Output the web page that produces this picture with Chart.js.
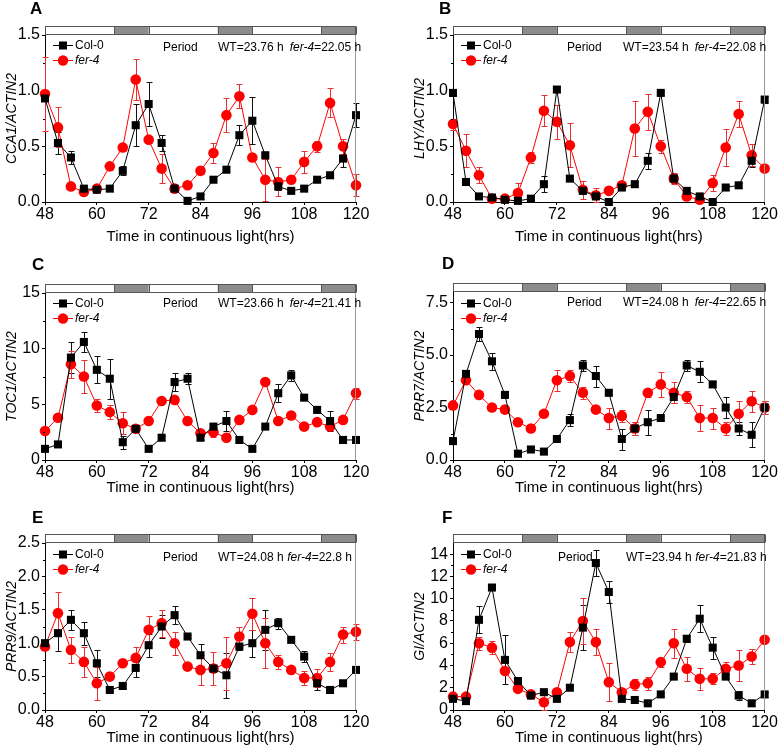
<!DOCTYPE html>
<html lang="en">
<head>
<meta charset="UTF-8" />
<title>Clock gene expression in continuous light</title>
<script src="https://cdn.jsdelivr.net/npm/chart.js"></script>
<style>
  body { margin: 0; background: #fff; }
  #fig { position: relative; width: 778px; height: 752px; }
  #fig canvas { position: absolute; }
</style>
</head>
<body>
<div id="fig">
  <canvas id="panelA" width="389" height="250" style="left:0;top:0"></canvas>
  <canvas id="panelB" width="389" height="250" style="left:389px;top:0"></canvas>
  <canvas id="panelC" width="389" height="250" style="left:0;top:250px"></canvas>
  <canvas id="panelD" width="389" height="250" style="left:389px;top:250px"></canvas>
  <canvas id="panelE" width="389" height="252" style="left:0;top:500px"></canvas>
  <canvas id="panelF" width="389" height="252" style="left:389px;top:500px"></canvas>
</div>
<script>
// sampling times (h in continuous light)
const hours = [48, 51, 54, 57, 60, 63, 66, 69, 72, 75, 78, 81, 84, 87, 90, 93, 96, 99, 102, 105, 108, 111, 114, 117, 120]
const xTicks = [48, 60, 72, 84, 96, 108, 120]

// y tick values per panel
const yTicksAB = [0, 0.5, 1.0, 1.5]
const yTicksC = [0, 5, 10, 15]
const yTicksD = [0, 2.5, 5.0, 7.5]
const yTicksE = [0, 0.5, 1.0, 1.5, 2.0, 2.5]
const yTicksF = [0, 2, 4, 6, 8, 10, 12, 14]

// subjective night bars
const darkStart = [64, 88, 112]
const darkEnd = [72, 96, 120]

// CCA1
const cca1Col = [0.93, 0.53, 0.40, 0.12, 0.11, 0.12, 0.28, 0.69, 0.88, 0.53, 0.12, 0.01, 0.05, 0.20, 0.29, 0.60, 0.73, 0.42, 0.14, 0.10, 0.12, 0.20, 0.24, 0.39, 0.78]
const cca1ColErr = [0.02, 0.10, 0.06, 0.02, 0.01, 0.02, 0.04, 0.19, 0.20, 0.07, 0.02, 0.01, 0.02, 0.02, 0.02, 0.09, 0.21, 0.03, 0.03, 0.02, 0.02, 0.02, 0.02, 0.08, 0.11]
const cca1Fer = [0.97, 0.67, 0.14, 0.09, 0.12, 0.32, 0.49, 1.10, 0.56, 0.30, 0.12, 0.15, 0.28, 0.44, 0.78, 0.95, 0.40, 0.20, 0.18, 0.20, 0.36, 0.50, 0.89, 0.50, 0.15]
const cca1FerErr = [0.33, 0.18, 0.02, 0.02, 0.03, 0.03, 0.03, 0.18, 0.03, 0.13, 0.02, 0.02, 0.03, 0.09, 0.15, 0.11, 0.03, 0.19, 0.13, 0.02, 0.10, 0.05, 0.13, 0.07, 0.10]

// LHY
const lhyCol = [0.98, 0.18, 0.05, 0.04, 0.02, 0.01, 0.03, 0.16, 1.01, 0.21, 0.10, 0.05, 0.00, 0.13, 0.16, 0.37, 0.98, 0.21, 0.10, 0.05, 0.00, 0.13, 0.15, 0.37, 0.92]
const lhyColErr = [0.03, 0.02, 0.02, 0.01, 0.01, 0.01, 0.01, 0.07, 0.02, 0.02, 0.02, 0.02, 0.01, 0.02, 0.02, 0.07, 0.02, 0.04, 0.02, 0.02, 0.01, 0.02, 0.02, 0.06, 0.03]
const lhyFer = [0.70, 0.46, 0.24, 0.03, 0.03, 0.08, 0.40, 0.82, 0.72, 0.51, 0.11, 0.06, 0.10, 0.15, 0.66, 0.81, 0.50, 0.21, 0.05, 0.02, 0.17, 0.49, 0.79, 0.42, 0.30]
const lhyFerErr = [0.05, 0.15, 0.07, 0.02, 0.02, 0.09, 0.05, 0.14, 0.15, 0.20, 0.08, 0.07, 0.02, 0.03, 0.25, 0.16, 0.06, 0.05, 0.02, 0.02, 0.07, 0.17, 0.12, 0.10, 0.02]

// TOC1
const toc1Col = [1.0, 1.4, 9.2, 10.6, 8.1, 7.3, 1.6, 2.8, 1.0, 2.0, 7.0, 7.3, 2.0, 3.0, 3.5, 1.8, 1.0, 3.0, 6.0, 7.6, 5.6, 4.5, 3.5, 1.8, 1.8]
const toc1ColErr = [0.2, 0.2, 1.4, 0.9, 1.2, 1.8, 0.6, 0.2, 0.2, 0.2, 0.8, 0.5, 0.2, 0.3, 0.9, 0.2, 0.2, 0.2, 0.8, 0.5, 0.2, 0.2, 0.9, 0.2, 0.3]
const toc1Fer = [2.6, 3.8, 8.6, 7.5, 4.9, 4.3, 3.3, 2.8, 3.5, 5.3, 5.4, 3.5, 2.4, 2.5, 2.0, 3.6, 4.5, 7.0, 3.5, 4.0, 3.0, 3.4, 3.0, 3.6, 6.0]
const toc1FerErr = [0.2, 0.2, 1.2, 1.5, 0.6, 0.6, 1.0, 0.2, 0.2, 0.2, 0.2, 0.2, 0.2, 0.4, 0.2, 0.2, 0.2, 0.2, 0.2, 0.2, 0.2, 0.2, 0.3, 0.2, 0.5]

// PRR7
const prr7Col = [0.9, 4.1, 6.0, 4.7, 3.1, 0.3, 0.5, 0.4, 1.0, 1.9, 4.5, 4.0, 3.2, 1.0, 1.5, 1.8, 2.0, 3.0, 4.5, 4.2, 3.6, 2.5, 1.5, 1.2, 2.5]
const prr7ColErr = [0.1, 0.1, 0.35, 0.4, 0.1, 0.1, 0.1, 0.1, 0.1, 0.3, 0.25, 0.5, 0.1, 0.5, 0.3, 0.6, 0.1, 0.3, 0.25, 0.5, 0.1, 0.5, 0.3, 0.6, 0.3]
const prr7Fer = [2.6, 3.8, 3.1, 2.5, 2.4, 1.8, 1.5, 2.2, 3.8, 4.0, 3.2, 2.4, 2.0, 2.1, 1.5, 3.2, 3.6, 3.2, 3.0, 2.0, 2.0, 1.5, 2.2, 2.8, 2.5]
const prr7FerErr = [0.1, 0.1, 0.1, 0.1, 0.1, 0.1, 0.1, 0.1, 0.5, 0.3, 0.3, 0.1, 0.5, 0.3, 0.3, 0.2, 0.6, 0.5, 0.3, 0.6, 0.5, 0.3, 0.6, 0.5, 0.3]

// PRR9
const prr9Col = [1.0, 1.15, 1.35, 1.15, 0.7, 0.3, 0.36, 0.63, 0.97, 1.25, 1.42, 1.1, 0.82, 0.62, 0.52, 0.95, 1.0, 1.2, 1.3, 1.05, 0.8, 0.4, 0.3, 0.4, 0.6]
const prr9ColErr = [0.02, 0.27, 0.15, 0.17, 0.2, 0.02, 0.03, 0.13, 0.17, 0.17, 0.14, 0.02, 0.17, 0.03, 0.34, 0.05, 0.2, 0.3, 0.08, 0.02, 0.08, 0.1, 0.02, 0.02, 0.02]
const prr9Fer = [0.95, 1.45, 0.9, 0.72, 0.4, 0.5, 0.7, 0.78, 1.2, 1.3, 1.0, 0.65, 0.6, 0.62, 0.7, 1.1, 1.44, 1.0, 0.72, 0.6, 0.48, 0.48, 0.72, 1.13, 1.17]
const prr9FerErr = [0.05, 0.32, 0.19, 0.22, 0.25, 0.03, 0.03, 0.17, 0.2, 0.2, 0.17, 0.03, 0.22, 0.25, 0.4, 0.14, 0.24, 0.37, 0.1, 0.05, 0.1, 0.14, 0.14, 0.12, 0.12]

// GI
const giCol = [1.0, 0.8, 8.1, 11.0, 4.5, 2.6, 1.3, 1.6, 1.0, 2.0, 7.4, 13.2, 10.6, 1.0, 0.9, 0.6, 1.4, 3.0, 6.4, 8.2, 5.6, 3.0, 1.3, 0.6, 1.4]
const giColErr = [0.1, 0.1, 1.2, 0.2, 2.2, 0.2, 0.2, 0.2, 0.1, 0.2, 2.0, 1.2, 1.0, 0.1, 0.1, 0.1, 0.1, 0.2, 0.3, 1.2, 1.0, 0.2, 0.4, 0.2, 0.2]
const giFer = [1.2, 1.2, 6.0, 5.6, 3.5, 1.9, 1.4, 0.7, 1.6, 6.1, 8.0, 6.1, 2.5, 1.6, 2.3, 2.4, 4.3, 6.0, 3.7, 2.8, 2.8, 3.7, 4.0, 4.8, 6.3]
const giFerErr = [0.2, 0.2, 0.6, 0.6, 0.3, 0.2, 0.3, 0.9, 0.2, 0.9, 2.1, 1.2, 1.7, 0.2, 0.5, 0.6, 0.4, 1.3, 1.1, 1.0, 0.5, 0.6, 1.4, 0.7, 0.2]

// free-running periods (h)
const periodWT = ['23.76', '23.54', '23.66', '24.08', '24.08', '23.94']
const periodFer = ['22.05', '22.08', '21.41', '22.65', '22.8', '21.83']

const FONT = "'Liberation Sans', Arial, Helvetica, sans-serif"
Chart.defaults.font.family = FONT
Chart.defaults.color = '#000'

// error bars, day/night bar, legend and labels
const decor = {
  id: 'decor',
  beforeDatasetsDraw(chart, args, opts) {
    const { ctx, chartArea, scales: { x, y } } = chart
    ctx.save()
    ctx.lineWidth = 1
    opts.errors.forEach((errs, i) => {
      const ds = chart.data.datasets[i]
      ctx.strokeStyle = opts.errColors[i]
      ctx.beginPath()
      ds.data.forEach((pt, j) => {
        const e = errs[j]
        if (!e) return
        const px = Math.round(x.getPixelForValue(pt.x)) + 0.5
        const top = Math.round(y.getPixelForValue(pt.y + e)) + 0.5
        const bot = Math.round(Math.min(y.getPixelForValue(pt.y - e), chartArea.bottom)) + 0.5
        ctx.moveTo(px, top); ctx.lineTo(px, bot)
        ctx.moveTo(px - 3, top); ctx.lineTo(px + 3, top)
        ctx.moveTo(px - 3, bot); ctx.lineTo(px + 3, bot)
      })
      ctx.stroke()
    })
    ctx.restore()
  },
  afterDraw(chart, args, opts) {
    const { ctx, chartArea: ca, scales: { x, y } } = chart
    ctx.save()

    // right frame
    ctx.strokeStyle = '#9a9a9a'
    ctx.lineWidth = 1
    ctx.beginPath()
    ctx.moveTo(Math.round(ca.right) - 0.5, ca.top)
    ctx.lineTo(Math.round(ca.right) - 0.5, ca.bottom)
    ctx.stroke()

    // light / dark bar
    const barTop = Math.round(ca.top) - 8.5
    ctx.fillStyle = '#fff'
    ctx.fillRect(ca.left, barTop, ca.right - ca.left, 8)
    ctx.fillStyle = '#8c8c8c'
    darkStart.forEach((s, i) => {
      const x0 = x.getPixelForValue(s)
      const x1 = x.getPixelForValue(darkEnd[i])
      ctx.fillRect(x0, barTop, x1 - x0, 8)
    })
    ctx.strokeStyle = '#555'
    ctx.strokeRect(Math.round(ca.left) + 0.5, barTop, Math.round(ca.right - ca.left) - 1, 8)
    darkStart.forEach((s, i) => {
      const x0 = Math.round(x.getPixelForValue(s)) + 0.5
      const x1 = Math.round(x.getPixelForValue(darkEnd[i])) + 0.5
      ctx.beginPath()
      ctx.moveTo(x0, barTop); ctx.lineTo(x0, barTop + 8)
      ctx.moveTo(x1, barTop); ctx.lineTo(x1, barTop + 8)
      ctx.stroke()
    })

    // minor y ticks
    const t = y.ticks.map(tk => tk.value)
    const step = t[1] - t[0]
    ctx.strokeStyle = '#000'
    ctx.beginPath()
    for (let v = t[0] + step / 2; v < y.max; v += step) {
      const py = Math.round(y.getPixelForValue(v)) + 0.5
      ctx.moveTo(ca.left - 2, py); ctx.lineTo(ca.left, py)
    }
    ctx.stroke()

    // legend
    const lx = ca.left + 8
    const ly1 = ca.top + opts.legendDy
    const ly2 = ly1 + 15
    ctx.lineWidth = 1
    ctx.strokeStyle = '#000'
    ctx.beginPath(); ctx.moveTo(lx, ly1 + 0.5); ctx.lineTo(lx + 20, ly1 + 0.5); ctx.stroke()
    ctx.fillStyle = '#000'
    ctx.fillRect(lx + 6, ly1 - 3.5, 8, 8)
    ctx.strokeStyle = '#f00'
    ctx.beginPath(); ctx.moveTo(lx, ly2 + 0.5); ctx.lineTo(lx + 20, ly2 + 0.5); ctx.stroke()
    ctx.fillStyle = '#f00'
    ctx.beginPath(); ctx.arc(lx + 10, ly2 + 0.5, 5.2, 0, Math.PI * 2); ctx.fill()
    ctx.fillStyle = '#000'
    ctx.textBaseline = 'middle'
    ctx.textAlign = 'left'
    ctx.font = '12px ' + FONT
    ctx.fillText('Col-0', lx + 22, ly1 + 0.5)
    ctx.font = 'italic 12px ' + FONT
    ctx.fillText('fer-4', lx + 22, ly2 + 0.5)

    // period annotation
    const ty = ca.top + opts.textDy
    ctx.font = '12px ' + FONT
    ctx.fillText('Period', ca.left + opts.periodX, ty)
    const wt = 'WT=' + opts.wt + ' h'
    let tx = ca.left + opts.wtX
    ctx.fillText(wt, tx, ty)
    tx += ctx.measureText(wt).width + opts.gap
    ctx.font = 'italic 12px ' + FONT
    ctx.fillText('fer-4', tx, ty)
    tx += ctx.measureText('fer-4').width
    ctx.font = '12px ' + FONT
    ctx.fillText('=' + opts.fer + ' h', tx, ty)

    // panel letter
    ctx.font = 'bold 17px ' + FONT
    ctx.textBaseline = 'top'
    ctx.fillText(opts.letter, opts.letterX, opts.letterY)
    ctx.restore()
  }
}

function toPoints(values) {
  return values.map((v, i) => ({ x: hours[i], y: v }))
}

function makePanel(id, p) {
  const ctx = document.getElementById(id).getContext('2d')
  return new Chart(ctx, {
    type: 'line',
    data: {
      datasets: [
        {
          label: 'Col-0',
          data: toPoints(p.col),
          borderColor: '#000',
          backgroundColor: '#000',
          borderWidth: 1,
          pointStyle: 'rect',
          pointRadius: 5.7,
          pointBorderWidth: 0,
          pointBackgroundColor: '#000',
          clip: false
        },
        {
          label: 'fer-4',
          data: toPoints(p.fer),
          borderColor: '#f00',
          backgroundColor: '#f00',
          borderWidth: 1,
          pointStyle: 'circle',
          pointRadius: 5.3,
          pointBorderWidth: 0,
          pointBackgroundColor: '#f00',
          clip: false
        }
      ]
    },
    options: {
      responsive: false,
      animation: false,
      events: [],
      layout: { padding: p.padding },
      plugins: {
        legend: { display: false },
        tooltip: { enabled: false },
        decor: {
          errors: [p.colErr, p.ferErr],
          errColors: ['#111', '#e83030'],
          wt: p.wt,
          fer: p.ferP,
          periodX: p.periodX,
          wtX: p.wtX,
          gap: p.gap,
          textDy: p.textDy,
          legendDy: p.legendDy,
          letter: p.letter,
          letterX: p.letterX,
          letterY: p.letterY
        }
      },
      scales: {
        x: {
          type: 'linear',
          min: 48,
          max: 120,
          bounds: 'data',
          afterBuildTicks: scale => {
            scale.ticks = xTicks.map(v => ({ value: v }))
          },
          afterFit: scale => { scale.height = p.xHeight },
          grid: { drawOnChartArea: false, tickLength: 3, color: '#000' },
          border: { color: '#000', width: 1 },
          ticks: { padding: 0, maxRotation: 0, font: { size: 16 } },
          title: {
            display: true,
            text: 'Time in continuous light(hrs)',
            font: { size: 15 },
            padding: { top: 0, bottom: 0 }
          }
        },
        y: {
          min: 0,
          max: p.yMax,
          bounds: 'data',
          afterBuildTicks: scale => {
            scale.ticks = p.yTicks.map(v => ({ value: v }))
          },
          afterFit: scale => { scale.width = 45 },
          grid: { drawOnChartArea: false, tickLength: 3, color: '#000' },
          border: { color: '#000', width: 1 },
          ticks: {
            padding: 2,
            font: { size: 16 },
            callback: v => v.toFixed(p.dec)
          },
          title: {
            display: true,
            text: p.gene + '/ACTIN2',
            font: { size: 14, style: 'italic' },
            padding: { top: 4, bottom: 0 }
          }
        }
      }
    },
    plugins: [decor]
  })
}

const leftPad = (top, bottom) => ({ left: 0, right: 33, top: top, bottom: bottom })
const rightPad = (top, bottom) => ({ left: 19, right: 13, top: top, bottom: bottom })

makePanel('panelA', {
  letter: 'A', gene: 'CCA1', col: cca1Col, colErr: cca1ColErr, fer: cca1Fer, ferErr: cca1FerErr,
  yMax: 1.5, yTicks: yTicksAB, dec: 1, wt: periodWT[0], ferP: periodFer[0],
  padding: leftPad(35, 4), xHeight: 44,
  periodX: 118, wtX: 173, gap: 6, textDy: 13, legendDy: 10, letterX: 30, letterY: 1
})
makePanel('panelB', {
  letter: 'B', gene: 'LHY', col: lhyCol, colErr: lhyColErr, fer: lhyFer, ferErr: lhyFerErr,
  yMax: 1.5, yTicks: yTicksAB, dec: 1, wt: periodWT[1], ferP: periodFer[1],
  padding: rightPad(35, 4), xHeight: 44,
  periodX: 114, wtX: 170, gap: 6, textDy: 13, legendDy: 10, letterX: 50, letterY: 1
})
makePanel('panelC', {
  letter: 'C', gene: 'TOC1', col: toc1Col, colErr: toc1ColErr, fer: toc1Fer, ferErr: toc1FerErr,
  yMax: 15, yTicks: yTicksC, dec: 0, wt: periodWT[2], ferP: periodFer[2],
  padding: leftPad(43, 3), xHeight: 37,
  periodX: 118, wtX: 173, gap: 6, textDy: 11, legendDy: 10, letterX: 32, letterY: 7
})
makePanel('panelD', {
  letter: 'D', gene: 'PRR7', col: prr7Col, colErr: prr7ColErr, fer: prr7Fer, ferErr: prr7FerErr,
  yMax: 8, yTicks: yTicksD, dec: 1, wt: periodWT[3], ferP: periodFer[3],
  padding: rightPad(42, 3), xHeight: 37,
  periodX: 114, wtX: 170, gap: 6, textDy: 11, legendDy: 11, letterX: 53, letterY: 6
})
makePanel('panelE', {
  letter: 'E', gene: 'PRR9', col: prr9Col, colErr: prr9ColErr, fer: prr9Fer, ferErr: prr9FerErr,
  yMax: 2.5, yTicks: yTicksE, dec: 1, wt: periodWT[4], ferP: periodFer[4],
  padding: leftPad(43, 5), xHeight: 37,
  periodX: 118, wtX: 173, gap: 3.5, textDy: 15, legendDy: 11, letterX: 32, letterY: 10
})
makePanel('panelF', {
  letter: 'F', gene: 'GI', col: giCol, colErr: giColErr, fer: giFer, ferErr: giFerErr,
  yMax: 15, yTicks: yTicksF, dec: 0, wt: periodWT[5], ferP: periodFer[5],
  padding: rightPad(43, 5), xHeight: 37,
  periodX: 105, wtX: 173, gap: 3.5, textDy: 15, legendDy: 11, letterX: 53, letterY: 10
})
</script>
</body>
</html>
